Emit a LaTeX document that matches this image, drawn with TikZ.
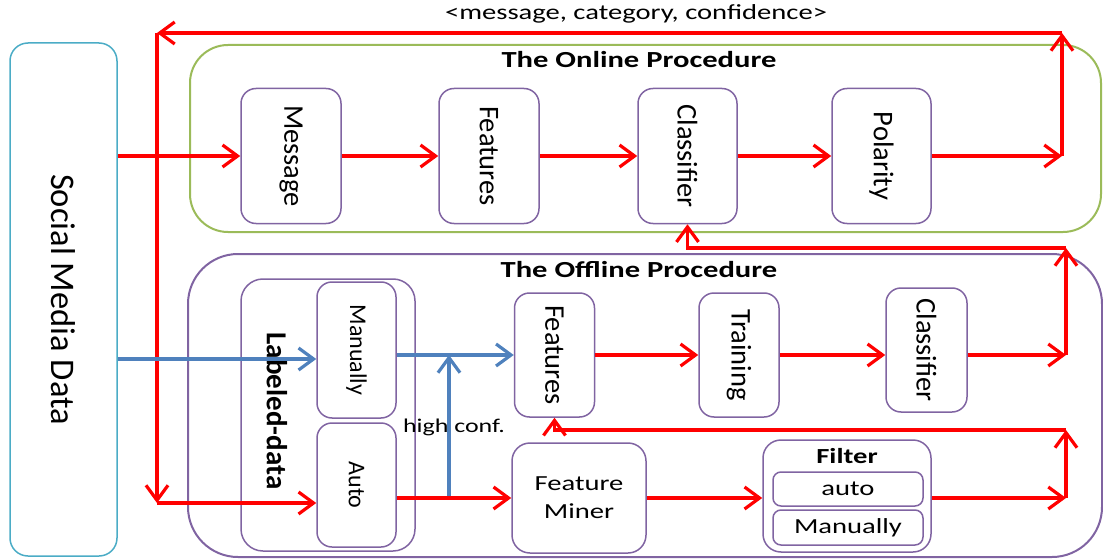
\documentclass[tikz,border=0pt]{standalone}
\usepackage{graphicx}
\usepackage{fontspec}
\setmainfont{Carlito}
\newfontfamily\wideface[FakeStretch=1.33]{Carlito}
\usetikzlibrary{arrows.meta}

\definecolor{boxpurple}{RGB}{128,100,162}
\definecolor{onlinegreen}{RGB}{155,187,89}
\definecolor{mediablue}{RGB}{75,172,198}
\definecolor{flowblue}{RGB}{79,129,189}

\tikzset{
    stage/.style={draw=boxpurple, line width=1.5pt, rounded corners=15pt, inner sep=0pt,
        font=\fontsize{28.5}{30}\selectfont},
    panel/.style={line width=2pt, inner sep=0pt},
    flow/.style={red, line width=3.2pt, -{Straight Barb[length=15pt,width=22pt]}},
    bflow/.style={flowblue, line width=3.2pt, -{Straight Barb[length=15pt,width=22pt]}},
    lbl/.style={font=\wideface\fontsize{21.5}{28}\selectfont},
    ttl/.style={font=\wideface\bfseries\fontsize{23}{28}\selectfont}
}

\begin{document}
\begin{tikzpicture}[x=1pt,y=-1pt]
    \useasboundingbox (0,0) rectangle (1103,559);

    % Social media source
    \node[draw=mediablue, line width=1.5pt, rounded corners=18pt, minimum width=107pt,
        minimum height=513pt, inner sep=0pt, font=\fontsize{34.5}{36}\selectfont]
        (media) at (63.5,299.5) {\rotatebox{-90}{Social Media Data}};

    % Online procedure
    \node[panel, draw=onlinegreen, rounded corners=38pt, minimum width=911pt, minimum height=187pt]
        (online) at (645.5,138.5) {};
    \node[ttl] (onlinettl) at (639,60) {The Online Procedure};
    \node[stage, minimum width=100pt, minimum height=135pt] (msg) at (291,156) {\rotatebox{-90}{Message}};
    \node[stage, minimum width=100pt, minimum height=135pt] (featon) at (489,156) {\rotatebox{-90}{Features}};
    \node[stage, minimum width=99pt, minimum height=135pt] (clson) at (687.5,156) {\rotatebox{-90}{Classifier}};
    \node[stage, minimum width=99pt, minimum height=135pt] (pol) at (881.5,156) {\rotatebox{-90}{Polarity}};

    % Offline procedure
    \node[panel, draw=boxpurple, rounded corners=50pt, minimum width=914pt, minimum height=303pt]
        (offline) at (645,405.5) {};
    \node[ttl] (offlinettl) at (639,270) {The Offline Procedure};

    % labeled data
    \node[stage, rounded corners=22pt, minimum width=174pt, minimum height=272pt] (labeled) at (328,415) {};
    \node[font=\bfseries\fontsize{29}{30}\selectfont] (labeledtxt) at (277,411) {\rotatebox{-90}{Labeled-data}};
    \node[stage, minimum width=79pt, minimum height=136pt, font=\fontsize{24}{26}\selectfont]
        (manual) at (356.5,350) {\rotatebox{-90}{Manually}};
    \node[stage, minimum width=79pt, minimum height=124pt, font=\fontsize{24}{26}\selectfont]
        (autob) at (356.5,485) {\rotatebox{-90}{Auto}};

    \node[stage, minimum width=80pt, minimum height=124pt] (featoff) at (554.5,355) {\rotatebox{-90}{Features}};
    \node[stage, minimum width=80pt, minimum height=124pt] (train) at (739,355) {\rotatebox{-90}{Training}};
    \node[stage, minimum width=81pt, minimum height=124pt] (clsoff) at (926.5,350) {\rotatebox{-90}{Classifier}};

    \node[stage, rounded corners=18pt, minimum width=134pt, minimum height=110pt, lbl, align=center]
        (miner) at (579,498) {Feature\\Miner};

    % filter
    \node[stage, rounded corners=18pt, minimum width=168pt, minimum height=112pt] (filter) at (847,496) {};
    \node[ttl, font=\wideface\bfseries\fontsize{21.5}{26}\selectfont] (filterttl) at (847,456) {Filter};
    \node[stage, rounded corners=8pt, minimum width=150pt, minimum height=34pt, lbl] (fauto) at (848,489) {auto};
    \node[stage, rounded corners=8pt, minimum width=150pt, minimum height=35pt, lbl] (fmanual) at (848,527.5) {Manually};

    % corners of the red loops
    \coordinate (topR) at (1062,33);
    \coordinate (topL) at (157,33);
    \coordinate (botL) at (157,503);
    \coordinate (onR) at (1062,156);
    \coordinate (offR) at (1066,355);
    \coordinate (fbR) at (1066,248);
    \coordinate (filR) at (1066,496);
    \coordinate (minR) at (1066,430);
    \coordinate (hcBot) at (449,498);

    \node[lbl] (tuple) at (636,14) {<message, category, confidence>};

    % online flow
    \draw[flow] (media.east |- msg.west) -- (msg.west);
    \draw[flow] (msg) -- (featon);
    \draw[flow] (featon) -- (clson);
    \draw[flow] (clson) -- (pol);
    \draw[flow] (pol.east) -- (onR);
    \draw[flow] (onR) -- (topR);
    \draw[flow] (topR) -- (topL);
    \draw[flow] (topL) -- (botL);
    \draw[flow] (botL) -- (autob.west |- botL);

    % offline flow
    \draw[bflow] (media.east |- manual.west) ++(0,9) -- ([yshift=-9pt]manual.west);
    \draw[bflow] (manual.east |- featoff.west) -- (featoff.west);
    \draw[bflow] (hcBot) -- (hcBot |- featoff.west);
    \node[lbl, font=\wideface\fontsize{19.5}{22}\selectfont] (hconf) at (454,427) {high conf.};
    \draw[flow] (featoff) -- (train);
    \draw[flow] (train.east) -- (clsoff.west |- train.east);
    \draw[flow] (clsoff.east |- train.east) -- (offR);
    \draw[flow] (offR) -- (fbR);
    \draw[flow] (fbR) -| (clson.south);

    \draw[flow] (autob.east |- miner.west) -- (miner.west);
    \draw[flow] (miner.east) -- (filter.west |- miner.east);
    \draw[flow] (filter.east |- miner.east) -- (filR |- miner.east);
    \draw[flow] (filR |- miner.east) -- (minR);
    \draw[flow] (minR) -| (featoff.south);
\end{tikzpicture}
\end{document}
